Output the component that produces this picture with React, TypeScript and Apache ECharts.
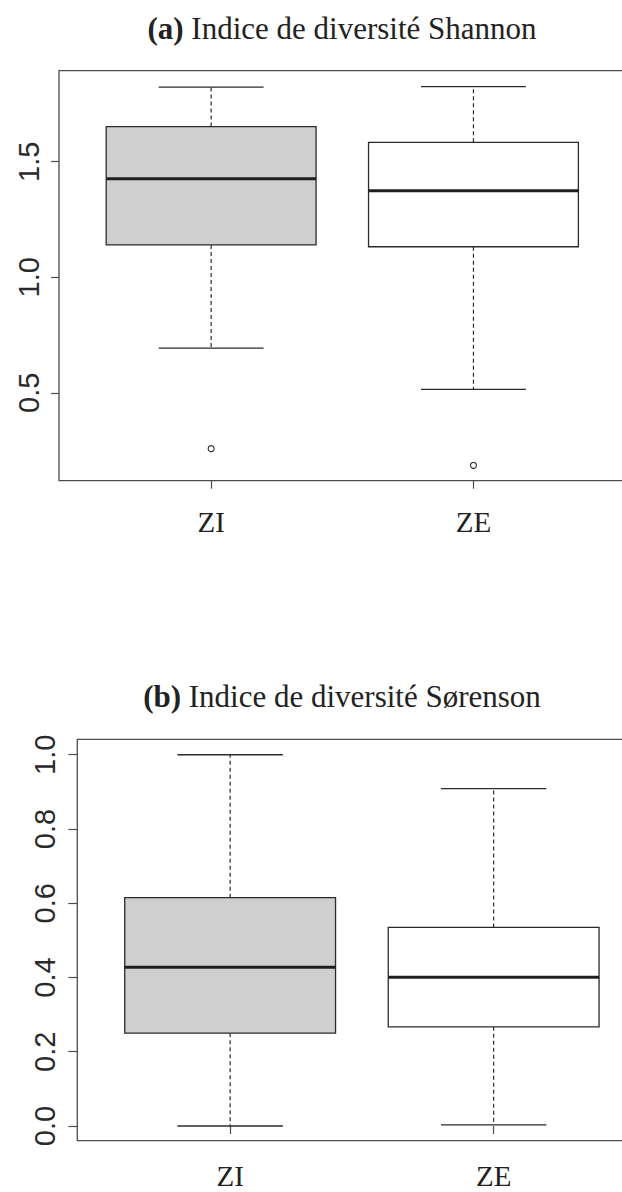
import React, { useEffect, useRef } from 'react';
import * as echarts from 'echarts';

// ---- data ----
const categories = ['ZI', 'ZE'];
// [position, lower whisker, Q1, median, Q3, upper whisker]
const shannonStats = [
  [1, 0.693, 1.14, 1.426, 1.652, 1.823],
  [2, 0.515, 1.132, 1.374, 1.584, 1.825],
];
const shannonOutliers = [
  [1, 0.258],
  [2, 0.186],
];
const shannonTicks = [0.5, 1.0, 1.5];

const sorensonStats = [
  [1, 0.0, 0.25, 0.4275, 0.615, 1.0],
  [2, 0.003, 0.267, 0.4005, 0.535, 0.909],
];
const sorensonTicks = [0.0, 0.2, 0.4, 0.6, 0.8, 1.0];
const categoryTicks = [1, 2];

// ---- styles ----
const INK = '#2b2b2b';
const FRAME = '#4d4d4d';
const BOX_FILLS = ['#cfcfcf', '#ffffff'];
const BOX_WEX = 0.8;
const STAPLE_WEX = 0.5;
const SERIF = '"Liberation Serif", "Times New Roman", serif';
const SANS = '"Liberation Sans", Arial, sans-serif';

const renderBox = (params: any, api: any) => {
  const x = api.value(0);
  const lo = api.coord([x, api.value(1)]);
  const q1 = api.coord([x, api.value(2)]);
  const med = api.coord([x, api.value(3)]);
  const q3 = api.coord([x, api.value(4)]);
  const hi = api.coord([x, api.value(5)]);
  const boxW = api.size([BOX_WEX, 0])[0];
  const capW = boxW * STAPLE_WEX;
  const cx = med[0];
  const whisk = { stroke: INK, lineWidth: 1.2, lineDash: [4, 3] };
  const solid = { stroke: INK, lineWidth: 1.3 };
  return {
    type: 'group',
    children: [
      { type: 'line', shape: { x1: cx, y1: q3[1], x2: cx, y2: hi[1] }, style: whisk },
      { type: 'line', shape: { x1: cx, y1: q1[1], x2: cx, y2: lo[1] }, style: whisk },
      { type: 'line', shape: { x1: cx - capW / 2, y1: hi[1], x2: cx + capW / 2, y2: hi[1] }, style: solid },
      { type: 'line', shape: { x1: cx - capW / 2, y1: lo[1], x2: cx + capW / 2, y2: lo[1] }, style: solid },
      {
        type: 'rect',
        shape: { x: cx - boxW / 2, y: q3[1], width: boxW, height: q1[1] - q3[1] },
        style: { fill: BOX_FILLS[params.dataIndex % BOX_FILLS.length], stroke: INK, lineWidth: 1.3 },
      },
      { type: 'line', shape: { x1: cx - boxW / 2, y1: med[1], x2: cx + boxW / 2, y2: med[1] }, style: { stroke: '#1e1e1e', lineWidth: 3 } },
    ],
  };
};

const makeXAxis = (gridIndex: number, margin: number) => ({
  gridIndex,
  type: 'value',
  min: 0.42,
  max: 2.58,
  axisLine: { show: false },
  splitLine: { show: false },
  axisTick: { show: true, customValues: categoryTicks, length: 8, lineStyle: { color: FRAME, width: 1.2 } },
  axisLabel: {
    show: true,
    customValues: categoryTicks,
    formatter: (v: number) => categories[Math.round(v) - 1] ?? '',
    margin,
    fontFamily: SERIF,
    fontSize: 29,
    lineHeight: 24,
    color: '#222',
  },
});

const makeYAxis = (gridIndex: number, min: number, max: number, ticks: number[], margin: number, tickLen: number) => ({
  gridIndex,
  type: 'value',
  min,
  max,
  axisLine: { show: false },
  splitLine: { show: false },
  axisTick: { show: true, customValues: ticks, length: tickLen, lineStyle: { color: FRAME, width: 1.2 } },
  axisLabel: {
    show: true,
    customValues: ticks,
    rotate: 90,
    margin,
    formatter: (v: number) => v.toFixed(1),
    fontFamily: SANS,
    fontSize: 29,
    lineHeight: 30,
    color: '#2a2a2a',
  },
});

export default function App() {
  const ref = useRef<HTMLDivElement>(null);
  useEffect(() => {
    if (!ref.current) return;
    const chart = echarts.init(ref.current, undefined, { renderer: 'svg' });
    const gridBase = {
      show: true,
      borderColor: FRAME,
      borderWidth: 1.3,
      backgroundColor: 'transparent',
      containLabel: false,
      outerBoundsMode: 'none',
    };
    chart.setOption({
      animation: false,
      backgroundColor: '#ffffff',
      grid: [
        { ...gridBase, left: 59, top: 70.7, right: -3.6, height: 410 },
        { ...gridBase, left: 77.3, top: 739.3, right: -24.5, height: 401.4 },
      ],
      xAxis: [makeXAxis(0, 29), makeXAxis(1, 22.8)],
      yAxis: [
        makeYAxis(0, 0.1195, 1.894, shannonTicks, 15.5, 8),
        makeYAxis(1, -0.0396, 1.0416, sorensonTicks, 17, 9),
      ],
      graphic: [
        {
          type: 'text',
          x: 342,
          y: 28,
          style: {
            text: '{b|(a)} Indice de diversité Shannon',
            rich: { b: { fontWeight: 'bold', fontFamily: SERIF, fontSize: 31, fill: '#222' } },
            fontFamily: SERIF,
            fontSize: 31,
            fill: '#222',
            align: 'center',
            verticalAlign: 'middle',
          },
        },
        {
          type: 'text',
          x: 342,
          y: 696,
          style: {
            text: '{b|(b)} Indice de diversité Sørenson',
            rich: { b: { fontWeight: 'bold', fontFamily: SERIF, fontSize: 31, fill: '#222' } },
            fontFamily: SERIF,
            fontSize: 31,
            fill: '#222',
            align: 'center',
            verticalAlign: 'middle',
          },
        },
      ],
      series: [
        {
          type: 'custom',
          xAxisIndex: 0,
          yAxisIndex: 0,
          renderItem: renderBox,
          encode: { x: 0, y: [1, 2, 3, 4, 5] },
          data: shannonStats,
        },
        {
          type: 'scatter',
          xAxisIndex: 0,
          yAxisIndex: 0,
          symbol: 'circle',
          symbolSize: 6,
          itemStyle: { color: '#ffffff', borderColor: INK, borderWidth: 1.1, opacity: 1 },
          data: shannonOutliers,
        },
        {
          type: 'custom',
          xAxisIndex: 1,
          yAxisIndex: 1,
          renderItem: renderBox,
          encode: { x: 0, y: [1, 2, 3, 4, 5] },
          data: sorensonStats,
        },
      ],
    });
    return () => chart.dispose();
  }, []);
  return <div ref={ref} style={{ position: 'absolute', left: 0, top: 0, width: 622, height: 1192 }} />;
}
